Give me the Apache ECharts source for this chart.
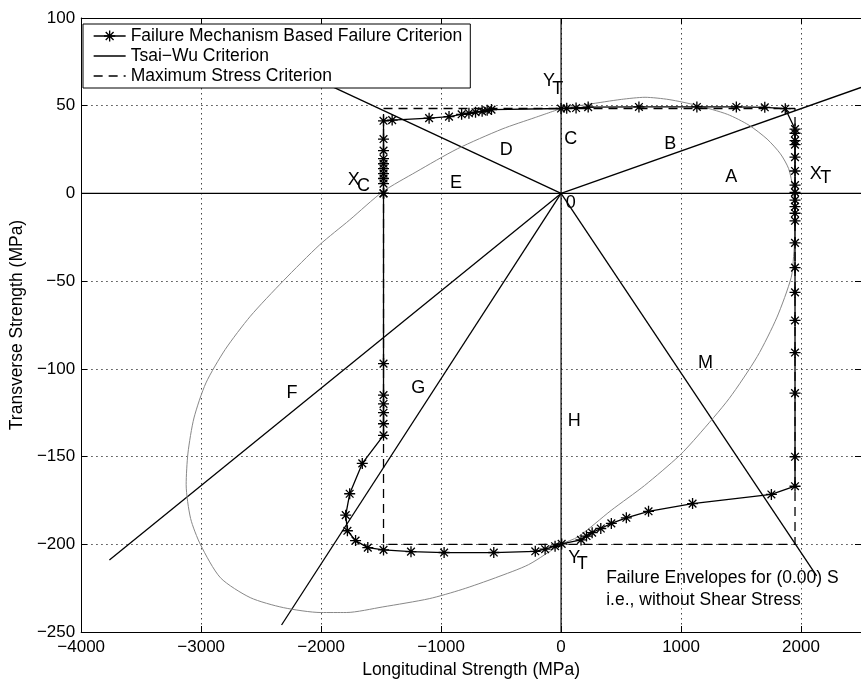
<!DOCTYPE html>
<html><head><meta charset="utf-8">
<script src="https://cdn.jsdelivr.net/npm/echarts@6/dist/echarts.min.js"></script>
<style>html,body{margin:0;padding:0;background:#fff}#c{width:861px;height:684px}</style>
</head><body><div id="c"></div>
<script>
const xTicks = [-4000, -3000, -2000, -1000, 0, 1000, 2000];
const yTicks = [-250, -200, -150, -100, -50, 0, 50, 100];
const xRange = [-4000, 2500];
const yRange = [-250, 100];

const failureMechanism = [
  [-1480, 0], [-1480, 5.6], [-1480, 8.5], [-1480, 11.3], [-1480, 14.1], [-1480, 16.9], [-1480, 19.8],
  [-1480, 24.4], [-1480, 31], [-1480, 41.4], [-1408, 41.8], [-1100, 42.9], [-934, 43.8], [-829, 45.1],
  [-768, 45.7], [-713, 46.3], [-658, 46.8], [-616, 47.4], [-580, 47.8], [0, 48.4], [47, 48.5],
  [125, 48.7], [226, 49.2], [649, 49.3], [1132, 49.3], [1461, 49.3], [1698, 49.1], [1869, 48.3],
  [1950, 36.7], [1950, 34.3], [1950, 30.1], [1950, 27.8], [1950, 20.7], [1950, 12.8], [1950, 4.7],
  [1950, 0.6], [1950, -3.8], [1950, -7.5], [1950, -11.3], [1950, -15.6], [1950, -28.2], [1950, -42.3],
  [1950, -56.4], [1950, -72.4], [1950, -90.7], [1950, -113.8], [1950, -150.1], [1950, -166.9],
  [1753, -171.6], [1096, -176.8], [729, -181.2], [544, -184.9], [419, -188.1], [331, -191],
  [259, -193.4], [212, -195.3], [166, -197.5], [5, -199.8], [-50, -201.1], [-133, -202.8],
  [-215, -204], [-561, -204.7], [-975, -204.7], [-1251, -204.2], [-1480, -203.2], [-1611, -201.9],
  [-1713, -197.9], [-1781, -192.3], [-1795, -183.4], [-1762, -171.2], [-1657, -153.9], [-1480, -137.9],
  [-1480, -131.3], [-1480, -125], [-1480, -120], [-1480, -115], [-1480, -97], [-1480, 0]
];

const maxStress = [[-1480, 48.4], [1950, 48.4], [1950, -200], [-1480, -200], [-1480, 48.4]];

const tsaiWu = [
  [0, 48.4], [226, 50.8], [502, 53.6], [700, 54.8], [900, 53.5], [1132, 50.2], [1386, 45.1],
  [1566, 38.9], [1717, 31], [1828, 22.6], [1897, 14.1], [1932, 3], [1948, -10], [1948, -24],
  [1938, -36], [1918, -48], [1800, -70.5], [1635, -93], [1400, -117], [1138, -138.3], [986, -149.5],
  [696, -166.5], [419, -180.6], [143, -195.7], [0, -200], [-271, -211.6], [-547, -219.1],
  [-824, -225.7], [-1099, -231], [-1486, -235.7], [-1790, -238.9], [-2002, -238.9], [-2315, -236.1],
  [-2591, -230.4], [-2839, -219.1], [-3005, -200.3], [-3088, -185.3], [-3125, -166],
  [-3110, -148], [-3060, -128], [-2960, -108], [-2800, -89], [-2590, -70], [-2315, -49.8],
  [-2011, -29.2], [-1762, -15.1], [-1486, 1], [-1210, 12.2], [-865, 25.4], [-492, 36.7],
  [-215, 43.3], [0, 48.4]
];

const regionLineEnds = [[-2100, 67], [2500, 60.4], [2130, -218], [-3765, -209], [-2330, -246]];
const zeroLines = [[[-4000, 0], [2500, 0]], [[0, -250], [0, 100]]];

const regionLabels = [
  [-101, 64.0, 'Y'], [-27, 59.5, 'T'], [81, 31, 'C'], [-457, 24.5, 'D'], [910, 28.2, 'B'],
  [1419, 9.6, 'A'], [2123, 11.3, 'X'], [2206, 8.5, 'T'], [-876, 5.9, 'E'], [81, -5.6, '0'],
  [-1729, 7.6, 'X'], [-1647, 4.2, 'C'], [-2242, -114, 'F'], [-1191, -111, 'G'], [110, -130, 'H'],
  [1204, -96.5, 'M'], [110, -208, 'Y'], [176, -211, 'T']
];
const noteLines = [[376, -219.5, 'Failure Envelopes for (0.00) S'], [376, -231.6, 'i.e., without Shear Stress']];

const FONT = 'Liberation Sans, Arial, Helvetica, sans-serif';
const STAR = 'path://M-5,-0.6L5,-0.6L5,0.6L-5,0.6Z M-0.6,-5L0.6,-5L0.6,5L-0.6,5Z M-3.08,-3.92L3.92,3.08L3.08,3.92L-3.92,-3.08Z M3.08,-3.92L3.92,-3.08L-3.08,3.92L-3.92,3.08Z';
const fmt = v => String(v).replace('-', '\u2212');

const names = ['Failure Mechanism Based Failure Criterion', 'Tsai\u2212Wu Criterion', 'Maximum Stress Criterion'];

const chart = echarts.init(document.getElementById('c'), null, {renderer: 'canvas'});

const baseAxisX = {
  type: 'value', min: xRange[0], max: xRange[1], interval: xTicks[1] - xTicks[0],
  axisLine: {show: true, onZero: false, lineStyle: {color: '#000', width: 1}},
  axisTick: {show: true, inside: true, length: 6, lineStyle: {color: '#000'}},
};
const baseAxisY = {
  type: 'value', min: yRange[0], max: yRange[1], interval: yTicks[1] - yTicks[0],
  axisLine: {show: true, onZero: false, lineStyle: {color: '#000', width: 1}},
  axisTick: {show: true, inside: true, length: 6, lineStyle: {color: '#000'}},
};

const series = [];
zeroLines.forEach(d => series.push({
  type: 'line', data: d, symbol: 'none', silent: true, z: 2,
  lineStyle: {color: '#000', width: 1.2}
}));
regionLineEnds.forEach(e => series.push({
  type: 'line', data: [[0, 0], e], symbol: 'none', silent: true, z: 2,
  lineStyle: {color: '#000', width: 1.3}
}));
series.push({
  name: names[1], type: 'line', data: tsaiWu, symbol: 'none', smooth: 0.25, silent: true, z: 2,
  itemStyle: {color: '#000'}, lineStyle: {color: '#888', width: 1}
});
series.push({
  name: names[2], type: 'line', data: maxStress, symbol: 'none', silent: true, z: 3,
  itemStyle: {color: '#000'}, lineStyle: {color: '#000', width: 1.3, type: [9, 6]}
});
series.push({
  name: names[0], type: 'line', data: failureMechanism, symbol: STAR, symbolSize: 11, silent: true, z: 4,
  itemStyle: {color: '#000'}, lineStyle: {color: '#000', width: 1.3}
});
series.push({
  type: 'scatter', data: regionLabels, symbolSize: 0, silent: true, z: 5,
  itemStyle: {opacity: 1},
  label: {show: true, position: 'inside', formatter: p => p.value[2], color: '#000', opacity: 1,
    fontSize: 18, fontFamily: FONT}
});
series.push({
  type: 'scatter', data: noteLines, symbolSize: 0, silent: true, z: 5,
  itemStyle: {opacity: 1},
  label: {show: true, position: 'right', distance: 0, formatter: p => p.value[2], color: '#000', opacity: 1,
    fontSize: 17.5, fontFamily: FONT}
});

chart.setOption({
  animation: false,
  backgroundColor: '#fff',
  textStyle: {fontFamily: FONT},
  grid: {left: 79, right: -3, top: 18, bottom: 46, containLabel: false},
  legend: {
    orient: 'vertical', left: 83, top: 24, selectedMode: false,
    padding: [3, 8, 3, 10], itemGap: 2, itemWidth: 32, itemHeight: 14,
    backgroundColor: '#fff', borderColor: '#000', borderWidth: 1, z: 10,
    lineStyle: {color: '#000', width: 1.3},
    textStyle: {fontSize: 17.5, color: '#000', fontFamily: FONT},
    data: [
      {name: names[0]},
      {name: names[1], itemStyle: {opacity: 0}, lineStyle: {color: '#000', width: 1.3}},
      {name: names[2], itemStyle: {opacity: 0}}
    ]
  },
  xAxis: [
    Object.assign({}, baseAxisX, {
      position: 'bottom',
      name: 'Longitudinal Strength (MPa)', nameLocation: 'middle', nameGap: 29,
      nameTextStyle: {fontSize: 17.5, color: '#000', fontFamily: FONT},
      axisLabel: {show: true, margin: 7, fontSize: 17, color: '#000', fontFamily: FONT,
        showMaxLabel: false, formatter: fmt},
      splitLine: {show: true, lineStyle: {color: '#444', width: 1, type: [1.5, 3.5]}}
    }),
    Object.assign({}, baseAxisX, {position: 'top', axisLabel: {show: false}, splitLine: {show: false}})
  ],
  yAxis: [
    Object.assign({}, baseAxisY, {
      position: 'left',
      name: 'Transverse Strength (MPa)', nameLocation: 'middle', nameGap: 50, nameRotate: 90,
      nameTextStyle: {fontSize: 17.5, color: '#000', fontFamily: FONT},
      axisLabel: {show: true, margin: 6, fontSize: 17, color: '#000', fontFamily: FONT, formatter: fmt},
      splitLine: {show: true, lineStyle: {color: '#444', width: 1, type: [1.5, 3.5]}}
    }),
    Object.assign({}, baseAxisY, {position: 'right', axisLabel: {show: false}, splitLine: {show: false}})
  ],
  series: series
});
</script>
</body></html>
